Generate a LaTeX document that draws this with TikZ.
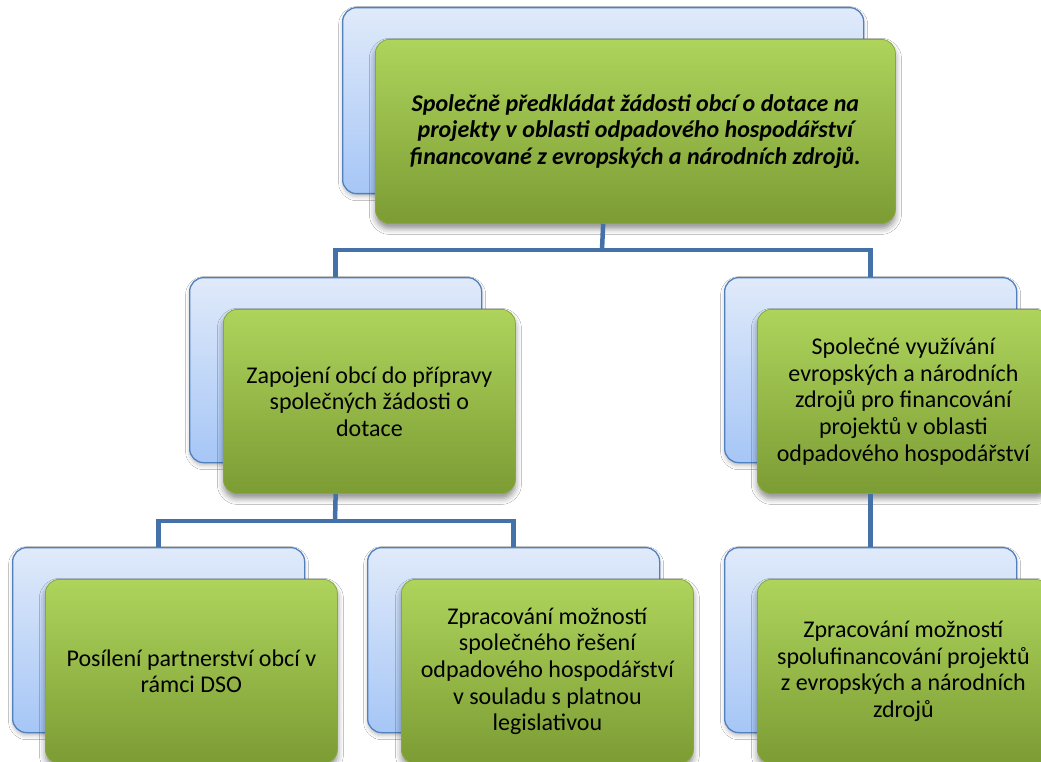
\documentclass[tikz,border=0pt]{standalone}
\usepackage{fontspec}
\setmainfont{Carlito}
\usetikzlibrary{shadows.blur}
\definecolor{conncol}{RGB}{68,114,168}
\definecolor{bluetop}{RGB}{224,234,250}
\definecolor{bluemid}{RGB}{208,224,250}
\definecolor{bluebot}{RGB}{166,198,246}
\definecolor{blueedge}{RGB}{80,128,190}
\definecolor{greentop}{RGB}{174,212,92}
\definecolor{greenmid}{RGB}{156,196,72}
\definecolor{greenbot}{RGB}{124,156,52}
\definecolor{greenedge}{RGB}{134,168,62}
\begin{document}
\begin{tikzpicture}[x=1pt,y=-1pt,
  backbox/.style={draw=blueedge, line width=1.3pt, rounded corners=14pt,
    top color=bluetop, middle color=bluemid, bottom color=bluebot,
    minimum width=292pt, minimum height=185pt, anchor=north west, inner sep=0pt,
    blur shadow={shadow xshift=0pt, shadow yshift=-3pt, shadow blur radius=4pt, shadow opacity=25}},
  greenbox/.style={draw=greenedge, line width=0.8pt, rounded corners=14pt,
    top color=greentop, middle color=greenmid, bottom color=greenbot,
    minimum width=292pt, minimum height=184pt, anchor=north west, inner sep=0pt,
    align=center, font=\fontsize{24}{26.6}\selectfont,
    blur shadow={shadow xshift=0pt, shadow yshift=-5pt, shadow blur radius=6pt, shadow opacity=45}},
  conn/.style={draw=conncol, line width=4.5pt}
]
\fill[white] (0,0) rectangle (1041,762);
\useasboundingbox (0,0) rectangle (1041,762);

% level 0
\node[backbox, minimum width=521pt, minimum height=186pt] (b0) at (342,7) {};
\node[greenbox, minimum width=520pt] (g0) at (375,39)
  {\bfseries\itshape Společně předkládat žádosti obcí o dotace na\\
   \bfseries\itshape projekty v oblasti odpadového hospodářství\\
   \bfseries\itshape financované z evropských a národních zdrojů.};

% level 1
\node[backbox] (b1) at (189,277) {};
\node[greenbox] (g1) at (223,309)
  {Zapojení obcí do přípravy\\ společných žádosti o\\ dotace};
\node[backbox] (b2) at (724,277) {};
\node[greenbox] (g2) at (757,309)
  {Společné využívání\\ evropských a národních\\ zdrojů pro financování\\ projektů v oblasti\\ odpadového hospodářství};

% level 2
\node[backbox] (b3) at (12,547) {};
\node[greenbox] (g3) at (45,579)
  {Posílení partnerství obcí v\\ rámci DSO};
\node[backbox] (b4) at (367,547) {};
\node[greenbox] (g4) at (401,579)
  {Zpracování možností\\ společného řešení\\ odpadového hospodářství\\ v souladu s platnou\\ legislativou};
\node[backbox] (b5) at (724,547) {};
\node[greenbox] (g5) at (757,579)
  {Zpracování možností\\ spolufinancování projektů\\ z evropských a národních\\ zdrojů};

% connectors
\coordinate (j0) at (602,250);
\coordinate (j1) at (335,521);
\draw[conn] (g0.south -| b0.south) -- (j0);
\draw[conn] (b1.north) |- (j0) -| (b2.north);
\draw[conn] (g1.south -| b1.south) -- (j1);
\draw[conn] (b3.north) |- (j1) -| (b4.north);
\draw[conn] (g2.south -| b2.south) -- (b5.north);
\end{tikzpicture}
\end{document}
